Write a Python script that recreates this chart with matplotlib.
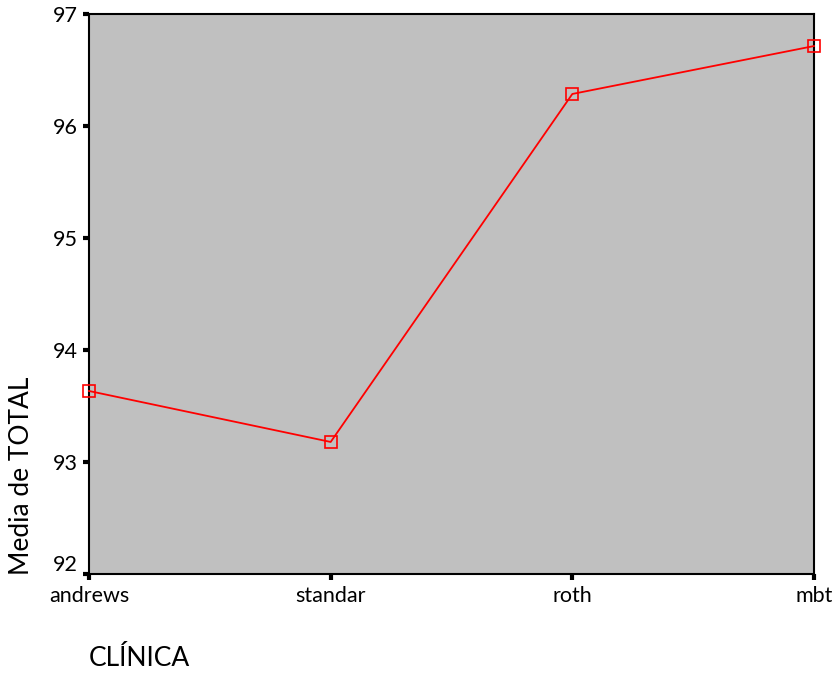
import matplotlib
matplotlib.use("Agg")
import matplotlib.pyplot as plt
import matplotlib.transforms as mtransforms

categories = ["andrews", "standar", "roth", "mbt"]
means = [93.634, 93.179, 96.286, 96.714]
yticks = [92, 93, 94, 95, 96, 97]

plt.rcParams['font.family'] = ['Lato', 'DejaVu Sans']

W, H = 839, 674
fig = plt.figure(figsize=(W/100, H/100), dpi=100)
ax = fig.add_axes([89/W, 1-574/H, (814-89)/W, (574-14)/H])
ax.set_facecolor('#c0c0c0')
x = list(range(len(categories)))
ax.plot(x, means, color='#ff0000', lw=1.3, marker='s', markersize=8.5,
        markerfacecolor='none', markeredgecolor='#ff0000', markeredgewidth=1.2,
        clip_on=False, zorder=5)
ax.set_xlim(0, len(categories)-1)
ax.set_ylim(92, 97)
ax.set_xticks(x)
ax.set_xticklabels(categories)
ax.set_yticks(yticks)
ax.set_yticklabels([str(t) for t in yticks])
ax.tick_params(direction='out', length=4, width=3, labelsize=15.5, color='black', pad=4)
ax.tick_params(axis='x', pad=5)
for s in ax.spines.values():
    s.set_linewidth(1.5)
    s.set_color('black')

# lowest y label sits slightly above its tick
lbl = ax.get_yticklabels()[0]
lbl.set_transform(lbl.get_transform() + mtransforms.ScaledTranslation(0, 11/100, fig.dpi_scale_trans))

fig.text(22/W, 1-575/H, "Media de TOTAL", rotation=90, ha='center', va='bottom', fontsize=19)
fig.text(89/W, 1-658/H, "CLÍNICA", ha='left', va='center', fontsize=19)

fig.savefig("out.png", dpi=100)
